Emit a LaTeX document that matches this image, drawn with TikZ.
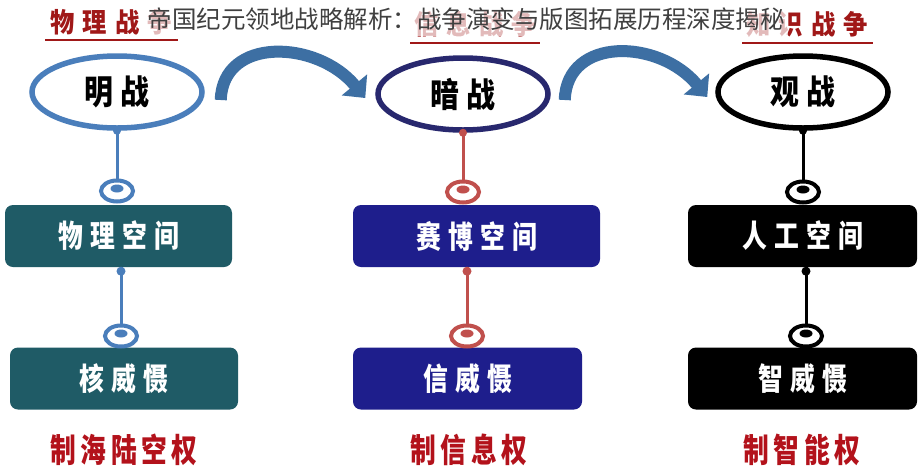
\documentclass[tikz,border=0pt]{standalone}
\usepackage{fontspec}
\usetikzlibrary{shapes.geometric,arrows.meta}
\newfontfamily\cjk{Noto Sans CJK SC}
\newfontfamily\cjkblk{Noto Sans CJK SC Black}
\definecolor{cBlue}{HTML}{4A7EBB}
\definecolor{cTeal}{HTML}{1F5B66}
\definecolor{cNavyLine}{HTML}{28286E}
\definecolor{cNavy}{HTML}{1E1E8C}
\definecolor{cRedLine}{HTML}{C0504D}
\definecolor{cRedText}{HTML}{B3121B}
\definecolor{cHead}{HTML}{A01818}
\definecolor{cArrow}{HTML}{3D6FA3}
\definecolor{cTitle}{HTML}{404040}
\newcommand\nar[2][0.8]{\scalebox{#1}[1]{#2}}
\begin{document}
\begin{tikzpicture}[x=1pt,y=-1pt,
  oval/.style={ellipse,draw,fill=white,line width=5.5pt,minimum width=170pt,minimum height=72pt,inner sep=0pt,
    font=\cjkblk\fontsize{34}{34}\selectfont},
  ring/.style={ellipse,draw,fill=white,line width=4pt,minimum width=32pt,minimum height=21pt,inner sep=0pt},
  panel/.style={rectangle,rounded corners=8pt,text=white,minimum height=62pt,inner sep=0pt,
    font=\cjkblk\fontsize{31}{31}\selectfont},
  stem/.style={line width=3pt},
  power/.style={text=cRedText,font=\cjkblk\fontsize{33}{33}\selectfont,inner sep=0pt},
  header/.style={text=cHead,font=\cjkblk\fontsize{27}{27}\selectfont,inner sep=0pt},
  bigarrow/.style={cArrow,line width=12pt,-{Triangle[length=17pt,width=32pt]}}
]
\fill[white] (0,0) rectangle (923,475);
\useasboundingbox (0,0) rectangle (923,475);

% headers
\node[header] (h1) at (111,22) {\nar[0.9]{物\hspace{9pt}理\hspace{9pt}战\hspace{9pt}争}};
\node[header] (h2) at (475,24) {\nar[0.9]{信\hspace{9pt}息\hspace{9pt}战\hspace{9pt}争}};
\node[header] (h3) at (807,24) {\nar[0.9]{知\hspace{9pt}识\hspace{9pt}战\hspace{9pt}争}};
\draw[cHead,line width=2.5pt] (45,40) -- (178,40);
\draw[cHead,line width=2.5pt] (410,43) -- (540,43);
\draw[cHead,line width=2.5pt] (742,43) -- (873,43);

% title overlay
\node[fill=white,fill opacity=0.7,text opacity=1,text=cTitle,inner xsep=3pt,inner ysep=6pt,
  font=\cjk\fontsize{24.5}{24.5}\selectfont] (title) at (466,19)
  {帝国纪元领地战略解析：战争演变与版图拓展历程深度揭秘};

% ovals
\node[oval,draw=cBlue] (e1) at (117,92) {\nar[0.85]{明\hspace{8pt}战}};
\node[oval,draw=cNavyLine] (e2) at (463,94) {\nar[0.85]{暗\hspace{8pt}战}};
\node[oval,draw=black] (e3) at (803,92) {\nar[0.85]{观\hspace{8pt}战}};

% curved arrows
\coordinate (a1s) at ([xshift=16pt,yshift=-8pt]e1.east);
\coordinate (a1e) at ([xshift=-10pt,yshift=-4pt]e2.west);
\coordinate (a2s) at ([xshift=14pt,yshift=-6pt]e2.east);
\coordinate (a2e) at ([xshift=-8pt,yshift=-5pt]e3.west);
\draw[bigarrow] (a1s) .. controls +(2,-64) and +(-48,-58) .. (a1e);
\draw[bigarrow] (a2s) .. controls +(2,-64) and +(-48,-58) .. (a2e);

% panels
\node[panel,fill=cTeal,minimum width=227pt] (b1) at (118.5,236) {\nar{物\hspace{9pt}理\hspace{9pt}空\hspace{9pt}间}};
\node[panel,fill=cTeal,minimum width=228pt] (c1) at (124,378.5) {\nar{核\hspace{9pt}威\hspace{9pt}慑}};
\node[panel,fill=cNavy,minimum width=247pt] (b2) at (476.5,236) {\nar{赛\hspace{9pt}博\hspace{9pt}空\hspace{9pt}间}};
\node[panel,fill=cNavy,minimum width=229pt] (c2) at (467.5,378.5) {\nar{信\hspace{9pt}威\hspace{9pt}慑}};
\node[panel,fill=black,minimum width=229pt] (b3) at (802.5,236) {\nar{人\hspace{9pt}工\hspace{9pt}空\hspace{9pt}间}};
\node[panel,fill=black,minimum width=229pt] (c3) at (802.5,378.5) {\nar{智\hspace{9pt}威\hspace{9pt}慑}};

% rings
\node[ring,draw=cBlue] (r1) at (117,191) {};
\node[ring,draw=cBlue] (s1) at (121,336) {};
\node[ring,draw=cRedLine] (r2) at (463,192) {};
\node[ring,draw=cRedLine] (s2) at (467,336) {};
\node[ring,draw=black] (r3) at (803,192) {};
\node[ring,draw=black] (s3) at (806,336) {};

% stems
\draw[stem,cBlue] (e1.south) -- (r1.north);
\draw[stem,cBlue] (b1.south -| s1) -- (s1.north);
\draw[stem,cRedLine] (e2.south) -- (r2.north);
\draw[stem,cRedLine] (b2.south -| s2) -- (s2.north);
\draw[stem,black] (e3.south) -- (r3.north);
\draw[stem,black] (b3.south -| s3) -- (s3.north);

% blobs inside rings and dots under panels
\foreach \r/\c in {r1/cBlue,s1/cBlue,r2/cRedLine,s2/cRedLine,r3/black,s3/black}{
  \fill[\c] ([yshift=2.5pt]\r.center) ellipse (6.5pt and 4pt);
}
\fill[cBlue] ([yshift=-4pt]b1.south -| s1) circle (4.5pt);
\fill[cRedLine] ([yshift=-4pt]b2.south -| s2) circle (4.5pt);
\fill[black] ([yshift=-4pt]b3.south -| s3) circle (4.5pt);
\fill[cBlue] (e1.south) circle (4pt);
\fill[cRedLine] (e2.south) circle (4pt);
\fill[black] (e3.south) circle (4pt);

% powers
\node[power] (p1) at (124,450) {\nar[0.78]{制\hspace{6pt}海\hspace{6pt}陆\hspace{6pt}空\hspace{6pt}权}};
\node[power] (p2) at (469,450) {\nar[0.78]{制\hspace{6pt}信\hspace{6pt}息\hspace{6pt}权}};
\node[power] (p3) at (802,450) {\nar[0.78]{制\hspace{6pt}智\hspace{6pt}能\hspace{6pt}权}};
\end{tikzpicture}
\end{document}
